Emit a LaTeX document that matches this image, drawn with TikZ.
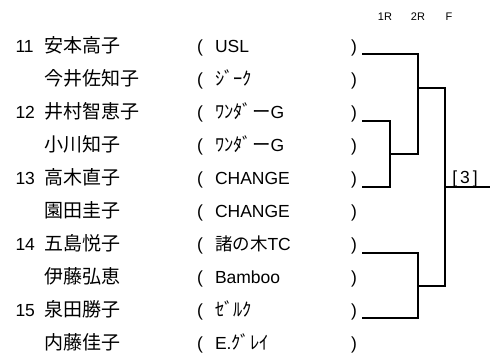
\documentclass[tikz,border=0pt]{standalone}
\usepackage{fontspec}
\setmainfont{Liberation Sans}
\newfontfamily\cjk{Noto Sans CJK JP}
\begin{document}
\begin{tikzpicture}[x=1pt,y=-1pt,
  txt/.style={anchor=base west,inner sep=0pt,outer sep=0pt,font=\fontsize{17.5}{20}\selectfont},
  nametxt/.style={anchor=base west,inner sep=0pt,outer sep=0pt,font=\fontsize{19}{22}\selectfont\cjk},
  hdr/.style={anchor=base,inner sep=0pt,font=\fontsize{11}{13}\selectfont},
  bline/.style={line width=2pt,line cap=rect,line join=miter}]
\useasboundingbox (0,0) rectangle (494,360);
% header
\node[hdr] (h1) at (385,20) {1R};
\node[hdr] (h2) at (418,20) {2R};
\node[hdr] (h3) at (449,20) {F};
% seeds
\node[txt] (s11) at (15.5,52) {11};
\node[txt] (s12) at (15.5,118) {12};
\node[txt] (s13) at (15.5,184) {13};
\node[txt] (s14) at (15.5,250) {14};
\node[txt] (s15) at (15.5,316) {15};
% names
\node[nametxt] (p0) at (44,52) {安本高子};
\node[nametxt] (p1) at (44,85) {今井佐知子};
\node[nametxt] (p2) at (44,118) {井村智恵子};
\node[nametxt] (p3) at (44,151) {小川知子};
\node[nametxt] (p4) at (44,184) {高木直子};
\node[nametxt] (p5) at (44,217) {園田圭子};
\node[nametxt] (p6) at (44,250) {五島悦子};
\node[nametxt] (p7) at (44,283) {伊藤弘恵};
\node[nametxt] (p8) at (44,316) {泉田勝子};
\node[nametxt] (p9) at (44,349) {内藤佳子};
% parentheses and teams
\foreach \k in {0,...,9}{
  \pgfmathsetmacro{\yy}{52+33*\k}
  \node[txt] (lp\k) at (197,\yy) {(};
  \node[txt] (rp\k) at (351,\yy) {)};
}
\node[txt] (t0) at (215,52) {USL};
\node[txt] (t1) at (215,85) {{\fontsize{18.5}{20}\selectfont\cjk ｼﾞｰｸ}};
\node[txt] (t2) at (215,118) {{\fontsize{18.5}{20}\selectfont\cjk ﾜﾝﾀﾞー}G};
\node[txt] (t3) at (215,151) {{\fontsize{18.5}{20}\selectfont\cjk ﾜﾝﾀﾞー}G};
\node[txt] (t4) at (215,184) {CHANGE};
\node[txt] (t5) at (215,217) {CHANGE};
\node[txt] (t6) at (215,250) {{\fontsize{17.5}{20}\selectfont\cjk 諸の木}TC};
\node[txt] (t7) at (215,283) {Bamboo};
\node[txt] (t8) at (215,316) {{\fontsize{18.5}{20}\selectfont\cjk ｾﾞﾙｸ}};
\node[txt] (t9) at (215,349) {E.{\fontsize{18.5}{20}\selectfont\cjk ｸﾞﾚｲ}};
% bracket coordinates
\coordinate (a0) at (363,54);
\coordinate (a2) at (363,120.5);
\coordinate (a4) at (363,186.5);
\coordinate (a6) at (363,253);
\coordinate (a8) at (363,318);
\coordinate (m1) at (390,154);
\coordinate (m2) at (418,88);
\coordinate (m3) at (418,286);
\coordinate (fin) at (445,186.5);
\coordinate (fend) at (489,186.5);
% 1R
\draw[bline] (a2) -| (m1) |- (a4);
\draw[bline] (a6) -| (m3) |- (a8);
% 2R
\draw[bline] (a0) -| (m2) |- (m1);
% F
\draw[bline] (m2) -| (fin) |- (m3);
\draw[bline] (fin) -- (fend);
\node[anchor=base,inner sep=0pt,font=\fontsize{17.5}{20}\selectfont] (res) at (465,183.5) {[\,3\,]};
\end{tikzpicture}
\end{document}
